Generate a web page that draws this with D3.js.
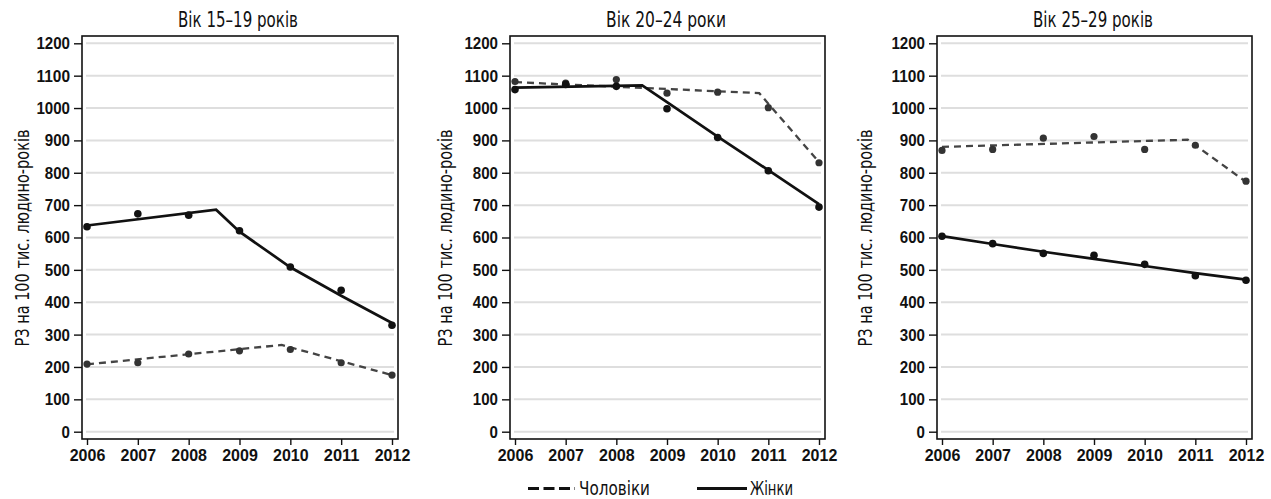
<!DOCTYPE html>
<html><head><meta charset="utf-8">
<script src="https://cdn.jsdelivr.net/npm/d3@7"></script>
<style>
html,body{margin:0;padding:0;background:#fff;}
svg{display:block;}
</style></head>
<body>
<svg id="chart" width="1271" height="499"></svg>
<script>
// ---------- data ----------
const years = [2006, 2007, 2008, 2009, 2010, 2011, 2012];
const yTicks = [0, 100, 200, 300, 400, 500, 600, 700, 800, 900, 1000, 1100, 1200];
const panelTitles = ["Вік 15–19 років", "Вік 20–24 роки", "Вік 25–29 років"];
const yAxisLabel = "РЗ на 100 тис. людино-років";
const legendLabels = ["Чоловіки", "Жінки"];

// observed rates (dots)
const men15 = [209, 213, 240, 250, 254, 213, 175];
const women15 = [633, 673, 669, 621, 509, 437, 329];
const men20 = [1082, 1077, 1088, 1046, 1049, 1001, 831];
const women20 = [1057, 1073, 1067, 998, 909, 806, 694];
const men25 = [869, 872, 907, 912, 872, 885, 774];
const women25 = [604, 581, 551, 545, 517, 482, 468];

// fitted (joinpoint) trends
const men15FitYears = [2006, 2009.83, 2012];
const men15Fit = [208, 268, 175];
const women15FitYears = [2006, 2008.54, 2009, 2010, 2011, 2012];
const women15Fit = [637, 686, 618, 508, 420, 336];
const men20FitYears = [2006, 2010.82, 2012];
const men20Fit = [1080, 1046, 833];
const women20FitYears = [2006, 2008.51, 2009, 2010, 2011, 2012];
const women20Fit = [1063, 1070, 1018, 912, 808, 703];
const men25FitYears = [2006, 2010.85, 2012];
const men25Fit = [880, 902, 772];
const women25FitYears = [2006, 2007, 2008, 2009, 2010, 2011, 2012];
const women25Fit = [604, 580, 556, 534, 512, 490, 470];

const panels = [
  {title: panelTitles[0], men: men15, women: women15, menFx: men15FitYears, menFy: men15Fit, womenFx: women15FitYears, womenFy: women15Fit},
  {title: panelTitles[1], men: men20, women: women20, menFx: men20FitYears, menFy: men20Fit, womenFx: women20FitYears, womenFy: women20Fit},
  {title: panelTitles[2], men: men25, women: women25, menFx: men25FitYears, menFy: men25Fit, womenFx: women25FitYears, womenFy: women25Fit}
];

// ---------- layout ----------
const frames = [
  {l: 82, r: 398, labelX: 22, titleX: 238},
  {l: 510, r: 825, labelX: 445, titleX: 666},
  {l: 937, r: 1252, labelX: 865, titleX: 1093}
];
const frameTop = 36, frameBottom = 439;
const condensed = "'DejaVu Sans Condensed','Liberation Sans Narrow',sans-serif";
const tickFont = "'Liberation Sans',Arial,sans-serif";

const svg = d3.select("#chart");
const y = d3.scaleLinear().domain([0, 1200]).range([431.7, 43.3]);

panels.forEach((p, i) => {
  const f = frames[i];
  const x = d3.scaleLinear().domain([2006, 2012]).range([f.l + 5, f.r - 6]);
  const g = svg.append("g");

  // gridlines
  g.selectAll("line.grid").data(yTicks).enter().append("line")
    .attr("x1", f.l + 4).attr("x2", f.r - 4)
    .attr("y1", d => y(d)).attr("y2", d => y(d))
    .attr("stroke", "#dedede").attr("stroke-width", 2);

  // frame
  g.append("rect").attr("x", f.l).attr("y", frameTop)
    .attr("width", f.r - f.l).attr("height", frameBottom - frameTop)
    .attr("fill", "none").attr("stroke", "#111").attr("stroke-width", 1.6);

  // y axis
  const ya = g.append("g").attr("transform", `translate(${f.l},0)`)
    .call(d3.axisLeft(y).tickValues(yTicks).tickSize(8).tickPadding(4).tickFormat(d3.format("d")));
  ya.select(".domain").remove();
  ya.selectAll(".tick line").attr("stroke", "#111").attr("stroke-width", 1.4);
  ya.selectAll(".tick text").attr("font-family", tickFont).attr("font-weight", "bold")
    .attr("font-size", 17).attr("fill", "#111")
    .attr("textLength", d => String(d).length * 8.4).attr("lengthAdjust", "spacingAndGlyphs");

  // x axis
  const xa = g.append("g").attr("transform", `translate(0,${frameBottom})`)
    .call(d3.axisBottom(x).tickValues(years).tickSize(6).tickPadding(4).tickFormat(d3.format("d")));
  xa.select(".domain").remove();
  xa.selectAll(".tick line").attr("stroke", "#111").attr("stroke-width", 1.4);
  xa.selectAll(".tick text").attr("font-family", tickFont).attr("font-weight", "bold")
    .attr("font-size", 17).attr("fill", "#111")
    .attr("textLength", d => String(d).length * 8.9).attr("lengthAdjust", "spacingAndGlyphs");

  // title
  g.append("text").attr("x", f.titleX).attr("y", 27)
    .attr("text-anchor", "middle").attr("font-family", condensed)
    .attr("font-size", 20.5).attr("fill", "#111")
    .attr("textLength", 120).attr("lengthAdjust", "spacingAndGlyphs").text(p.title);

  // y label
  g.append("text").attr("transform", `translate(${f.labelX},238) rotate(-90)`)
    .attr("text-anchor", "middle").attr("dominant-baseline", "central")
    .attr("font-family", condensed).attr("font-size", 19.5).attr("fill", "#111")
    .attr("textLength", 217).attr("lengthAdjust", "spacingAndGlyphs").text(yAxisLabel);

  const line = d3.line().x(d => x(d[0])).y(d => y(d[1]));

  // men fitted (dashed)
  g.append("path").datum(d3.zip(p.menFx, p.menFy)).attr("d", line)
    .attr("fill", "none").attr("stroke", "#444").attr("stroke-width", 2.3)
    .attr("stroke-dasharray", "7,5");
  // women fitted (solid)
  g.append("path").datum(d3.zip(p.womenFx, p.womenFy)).attr("d", line)
    .attr("fill", "none").attr("stroke", "#111").attr("stroke-width", 2.7);

  // dots
  g.selectAll("circle.m").data(d3.zip(years, p.men)).enter().append("circle")
    .attr("cx", d => x(d[0])).attr("cy", d => y(d[1])).attr("r", 3.6).attr("fill", "#333");
  g.selectAll("circle.w").data(d3.zip(years, p.women)).enter().append("circle")
    .attr("cx", d => x(d[0])).attr("cy", d => y(d[1])).attr("r", 3.8).attr("fill", "#111");
});

// legend
const lg = svg.append("g");
lg.append("line").attr("x1", 528).attr("x2", 575).attr("y1", 488.5).attr("y2", 488.5)
  .attr("stroke", "#111").attr("stroke-width", 2.8).attr("stroke-dasharray", "11,4.5");
lg.append("text").attr("x", 579).attr("y", 494.5).attr("font-family", condensed)
  .attr("font-size", 19).attr("fill", "#111")
  .attr("textLength", 71).attr("lengthAdjust", "spacingAndGlyphs").text(legendLabels[0]);
lg.append("line").attr("x1", 697).attr("x2", 747).attr("y1", 488.5).attr("y2", 488.5)
  .attr("stroke", "#111").attr("stroke-width", 2.8);
lg.append("text").attr("x", 750).attr("y", 494.5).attr("font-family", condensed)
  .attr("font-size", 19).attr("fill", "#111")
  .attr("textLength", 43).attr("lengthAdjust", "spacingAndGlyphs").text(legendLabels[1]);
</script>
</body></html>
